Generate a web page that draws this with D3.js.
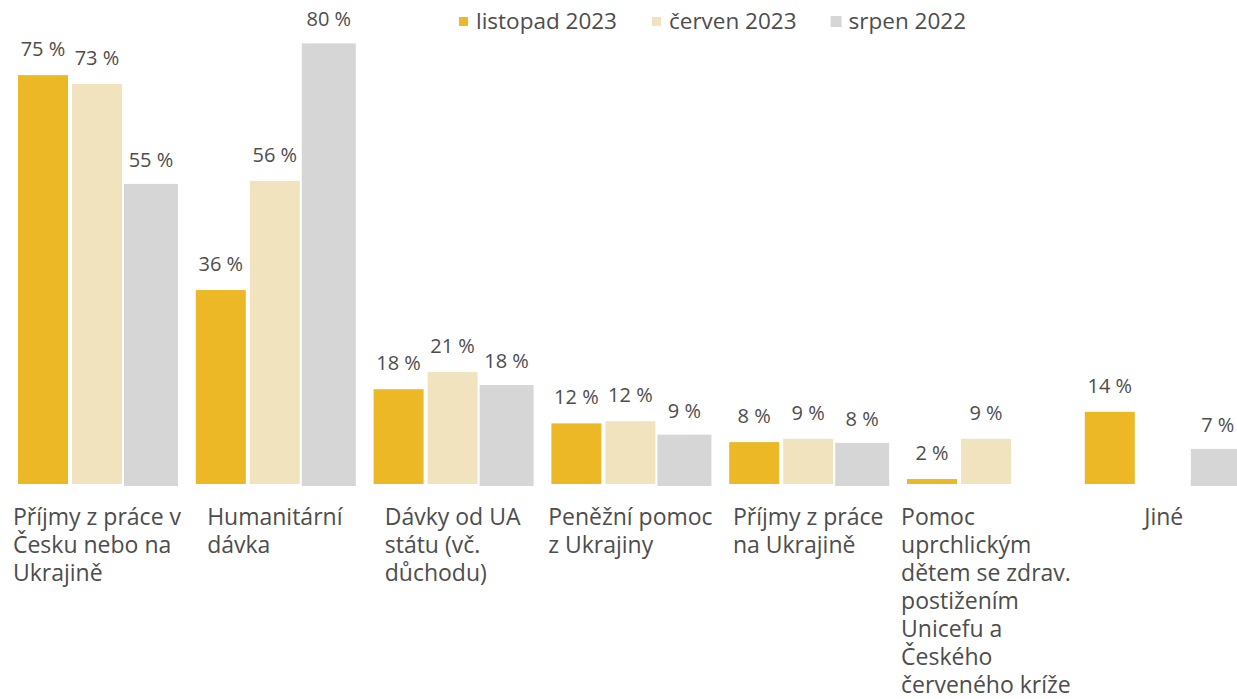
<!DOCTYPE html>
<html>
<head>
<meta charset="utf-8">
<script src="https://cdn.jsdelivr.net/npm/d3@7"></script>
<style>
  html, body { margin: 0; padding: 0; background: #ffffff; }
  svg { display: block; font-family: "Open Sans", "Noto Sans", sans-serif; }
</style>
</head>
<body>
<svg id="chart" width="1237" height="699"></svg>
<script>
// ---- data ----
const categories = [
  "Příjmy z práce v\nČesku nebo na\nUkrajině",
  "Humanitární\ndávka",
  "Dávky od UA\nstátu (vč.\ndůchodu)",
  "Peněžní pomoc\nz Ukrajiny",
  "Příjmy z práce\nna Ukrajině",
  "Pomoc\nuprchlickým\ndětem se zdrav.\npostižením\nUnicefu a\nČeského\nčerveného kríže",
  "Jiné"
];
const seriesNames = ["listopad 2023", "červen 2023", "srpen 2022"];
const listopad2023 = [75.0, 36.0, 18.0, 11.8, 8.4, 1.7, 13.9];
const cerven2023   = [73.4, 55.8, 21.1, 12.2, 9.0, 9.0, null];
const srpen2022    = [54.9, 80.4, 18.4, 9.4, 7.9, null, 6.8];
const seriesValues = [listopad2023, cerven2023, srpen2022];
const seriesColors = ["#ecb826", "#f1e3be", "#d6d6d6"];

// ---- layout ----
const svg = d3.select("#chart");
const textColor = "#4d4d4d";
const baseGap = 4.4;

const x0 = d3.scaleBand().domain(d3.range(categories.length))
  .range([18, 1242.8]).paddingInner(0.1114).paddingOuter(0);
const x1 = d3.scaleBand().domain(d3.range(seriesNames.length))
  .range([0, x0.bandwidth()]).paddingInner(4 / 54).paddingOuter(0);
const y = d3.scaleLinear().domain([0, 81]).range([488.4, 42.1]);

const rows = [];
categories.forEach((c, i) => {
  seriesValues.forEach((vals, s) => {
    if (vals[i] != null) rows.push({ cat: i, s, v: vals[i] });
  });
});

const bars = svg.append("g");
bars.selectAll("rect").data(rows).join("rect")
  .attr("x", d => x0(d.cat) + x1(d.s))
  .attr("width", x1.bandwidth())
  .attr("y", d => y(d.v))
  .attr("height", d => Math.max(0, y(0) - baseGap - y(d.v)))
  .attr("fill", d => seriesColors[d.s])
  .attr("stroke", d => d.s === 2 ? seriesColors[2] : "none")
  .attr("stroke-width", 4);

svg.append("g").selectAll("text").data(rows).join("text")
  .attr("x", d => x0(d.cat) + x1(d.s) + x1.bandwidth() / 2)
  .attr("y", d => y(d.v) - 19)
  .attr("text-anchor", "middle")
  .attr("font-size", 20)
  .attr("fill", textColor)
  .text(d => Math.round(d.v) + " %");

// category labels: block centred under the group, lines left-aligned
const catG = svg.append("g");
categories.forEach((c, i) => {
  const lines = c.split("\n");
  const t = catG.append("text")
    .attr("font-size", 23)
    .attr("fill", textColor);
  lines.forEach((ln, j) => {
    t.append("tspan").attr("dy", j === 0 ? 0 : 28).text(ln);
  });
  const nodes = t.selectAll("tspan").nodes();
  const w = d3.max(nodes, n => n.getComputedTextLength());
  const left = x0(i) + x0.bandwidth() / 2 - w / 2;
  t.attr("y", 524.5);
  t.selectAll("tspan").attr("x", left);
});

// legend
const legend = svg.append("g");
let lx = 459;
seriesNames.forEach((name, s) => {
  legend.append("rect")
    .attr("x", lx).attr("y", 17).attr("width", 9).attr("height", 9)
    .attr("fill", seriesColors[s])
    .attr("stroke", s === 2 ? seriesColors[2] : "none")
    .attr("stroke-width", 2);
  const t = legend.append("text")
    .attr("x", lx + 17).attr("y", 29)
    .attr("font-size", 22.5)
    .attr("fill", textColor)
    .text(name);
  lx = lx + 17 + t.node().getComputedTextLength() + 35;
});
</script>
</body>
</html>
